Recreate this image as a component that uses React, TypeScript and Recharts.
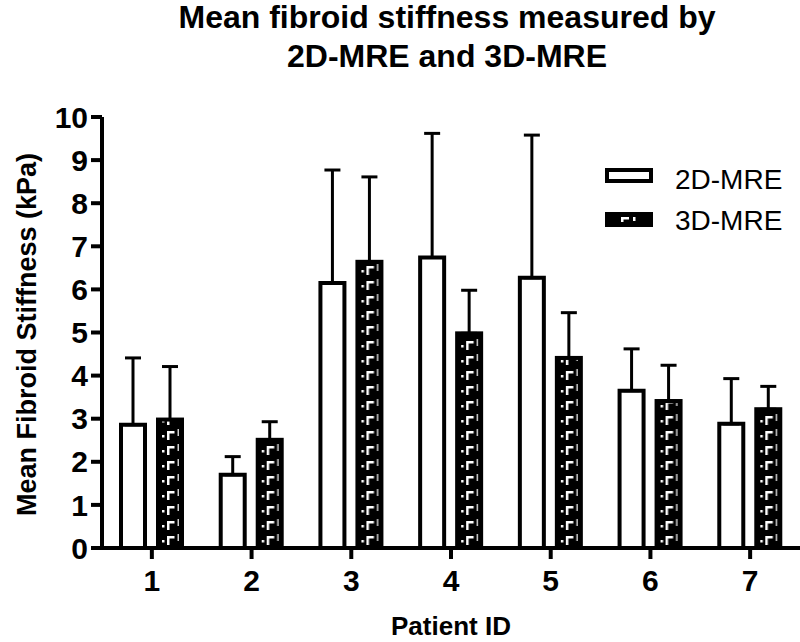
import React from "react";
import {
  Bar,
  BarChart,
  ErrorBar,
  Legend,
  XAxis,
  YAxis,
} from "recharts";

const patients = ["1", "2", "3", "4", "5", "6", "7"];
const mean2d = [2.86, 1.7, 6.15, 6.74, 6.27, 3.65, 2.88];
const sd2d = [1.55, 0.42, 2.62, 2.88, 3.31, 0.97, 1.05];
const mean3d = [2.98, 2.51, 6.64, 4.98, 4.41, 3.41, 3.22];
const sd3d = [1.23, 0.42, 1.97, 1.0, 1.05, 0.83, 0.53];
const yTicks = [0, 1, 2, 3, 4, 5, 6, 7, 8, 9, 10];
const seriesNames = ["2D-MRE", "3D-MRE"];

const data = patients.map((p, i) => ({
  patient: p,
  mre2d: mean2d[i],
  err2d: [0, sd2d[i]],
  mre3d: mean3d[i],
  err3d: [0, sd3d[i]],
}));

const FONT = '"Liberation Sans", Arial, sans-serif';
const SW = 4;

// white "Γ" marks on black, one tile every 15px
const PatternTile = ({ w }: { w: number }) => (
  <>
    <rect x={0} y={0} width={w} height={15} fill="#000" />
    <rect x={4} y={7} width={2.5} height={2.5} fill="#fff" />
    <rect x={9} y={3} width={2.5} height={9} fill="#fff" />
    <rect x={9} y={3} width={7.5} height={2.5} fill="#fff" />
    <rect x={19.5} y={1} width={1.5} height={7} fill="#ccc" />
  </>
);

const PatternBar = (props: any) => {
  const { x, y, width, height, index } = props;
  if (!height || height <= 0) return null;
  const id = `mre3d-pat-${index}`;
  return (
    <g>
      <defs>
        <pattern
          id={id}
          patternUnits="userSpaceOnUse"
          x={x}
          y={y + height}
          width={width}
          height={15}
        >
          <PatternTile w={width} />
        </pattern>
      </defs>
      <rect x={x} y={y} width={width} height={height} fill={`url(#${id})`} />
      <rect
        x={x}
        y={y}
        width={width}
        height={height}
        fill="none"
        stroke="#000"
        strokeWidth={SW}
      />
    </g>
  );
};

const legendText = { fontFamily: FONT, fontSize: 28 };

const LegendContent = () => (
  <svg width={195} height={84}>
    <rect x={2} y={10} width={44} height={11} fill="#fff" stroke="#000" strokeWidth={SW} />
    <text x={70} y={19} dominantBaseline="central" style={legendText} fill="#000">
      {seriesNames[0]}
    </text>
    <rect x={2} y={54} width={44} height={11} fill="#000" stroke="#000" strokeWidth={SW} />
    <rect x={16} y={57} width={2.5} height={5} fill="#fff" />
    <rect x={16} y={57} width={8} height={2.5} fill="#fff" />
    <rect x={28} y={57} width={2.5} height={4} fill="#fff" />
    <text x={70} y={60} dominantBaseline="central" style={legendText} fill="#000">
      {seriesNames[1]}
    </text>
  </svg>
);

const tickStyle = { fontFamily: FONT, fontSize: 30, fontWeight: 700, fill: "#000" };
const titleStyle = { fontFamily: FONT, fontSize: 32, fontWeight: 700 };

export default function App() {
  return (
    <div style={{ position: "absolute", left: 0, top: 0, width: 800, height: 642, background: "#fff" }}>
      <svg width={800} height={80} style={{ position: "absolute", left: 0, top: 0 }}>
        <text x={447} y={28} textAnchor="middle" style={titleStyle} fill="#000">
          Mean fibroid stiffness measured by
        </text>
        <text x={447} y={67} textAnchor="middle" style={titleStyle} fill="#000">
          2D-MRE and 3D-MRE
        </text>
      </svg>
      <BarChart
        width={800}
        height={642}
        data={data}
        margin={{ top: 117, right: 0, bottom: 64, left: 0 }}
        barSize={24}
        barGap={13}
        style={{ position: "absolute", left: 0, top: 0 }}
      >
        <XAxis
          dataKey="patient"
          height={30}
          axisLine={{ stroke: "#000", strokeWidth: SW }}
          tickLine={{ stroke: "#000", strokeWidth: SW }}
          tickSize={11}
          tickMargin={11}
          tick={tickStyle}
          label={{
            content: (p: any) => {
              const vb = p.viewBox;
              return (
                <text
                  x={vb.x + vb.width / 2}
                  y={vb.y + 78}
                  textAnchor="middle"
                  dominantBaseline="central"
                  style={{ fontFamily: FONT, fontSize: 26, fontWeight: 700 }}
                  fill="#000"
                >
                  Patient ID
                </text>
              );
            },
          }}
        />
        <YAxis
          width={102}
          domain={[0, 10]}
          ticks={yTicks}
          interval={0}
          axisLine={{ stroke: "#000", strokeWidth: SW }}
          tickLine={{ stroke: "#000", strokeWidth: SW }}
          tickSize={11}
          tickMargin={3}
          tick={tickStyle}
          label={{
            content: (p: any) => {
              const vb = p.viewBox;
              const cx = vb.x + 27;
              const cy = vb.y + vb.height / 2 + 2;
              return (
                <text
                  x={cx}
                  y={cy}
                  transform={`rotate(-90 ${cx} ${cy})`}
                  textAnchor="middle"
                  dominantBaseline="central"
                  style={{ fontFamily: FONT, fontSize: 27, fontWeight: 700 }}
                  fill="#000"
                >
                  Mean Fibroid Stiffness (kPa)
                </text>
              );
            },
          }}
        />
        <Legend
          layout="vertical"
          align="center"
          verticalAlign="middle"
          content={<LegendContent />}
          wrapperStyle={{ position: "absolute", left: 605, top: 160, width: 195 }}
        />
        <Bar
          dataKey="mre2d"
          name={seriesNames[0]}
          fill="#fff"
          stroke="#000"
          strokeWidth={SW}
          isAnimationActive={false}
        >
          <ErrorBar dataKey="err2d" direction="y" width={8} stroke="#000" strokeWidth={3} />
        </Bar>
        <Bar
          dataKey="mre3d"
          name={seriesNames[1]}
          fill="#000"
          shape={<PatternBar />}
          isAnimationActive={false}
        >
          <ErrorBar dataKey="err3d" direction="y" width={8} stroke="#000" strokeWidth={3} />
        </Bar>
      </BarChart>
    </div>
  );
}
